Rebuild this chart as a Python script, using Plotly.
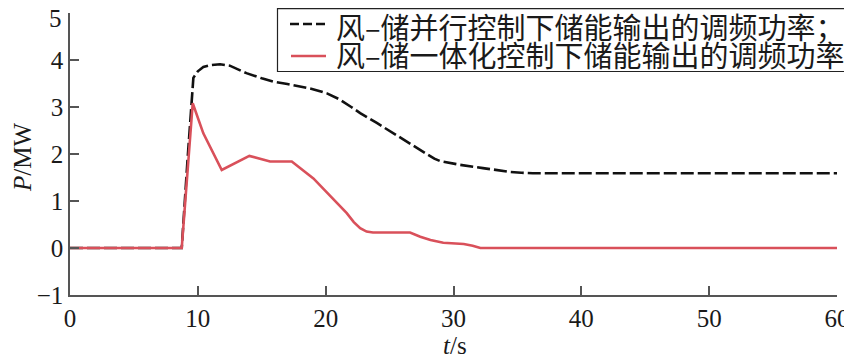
import plotly.graph_objects as go

# time (s) and power (MW) for each series
t_parallel = [0, 8.74, 9.2, 9.65, 10.0, 10.43, 11.0, 11.74, 12.5, 13.2, 13.8, 15.0, 15.9, 17.0, 18.0, 19.0, 20.1, 21.1, 22.0, 22.7, 24.0, 25.3, 26.6, 27.9, 28.5, 28.95, 29.6, 30.5, 32.3, 33.5, 34.4, 35.3, 36.2, 40, 50, 60]
p_parallel = [0, 0, 1.9, 3.62, 3.76, 3.85, 3.89, 3.91, 3.88, 3.80, 3.72, 3.61, 3.54, 3.49, 3.44, 3.38, 3.29, 3.16, 3.00, 2.87, 2.66, 2.44, 2.21, 1.99, 1.90, 1.85, 1.81, 1.77, 1.70, 1.65, 1.62, 1.60, 1.59, 1.59, 1.59, 1.59]

t_integrated = [0, 8.74, 9.6, 10.43, 11.87, 14.03, 15.65, 17.35, 19.04, 21.65, 22.2, 22.7, 23.2, 23.7, 26.6, 27.4, 28.2, 29.2, 30.8, 31.5, 32.1, 40, 50, 60]
p_integrated = [0, 0, 3.08, 2.44, 1.66, 1.96, 1.84, 1.84, 1.48, 0.74, 0.55, 0.42, 0.35, 0.33, 0.33, 0.24, 0.17, 0.11, 0.085, 0.05, 0.0, 0.0, 0.0, 0.0]

name_parallel = "风–储并行控制下储能输出的调频功率；"
name_integrated = "风–储一体化控制下储能输出的调频功率"

x_ticks = [0, 10, 20, 30, 40, 50, 60]
y_ticks = [-1, 0, 1, 2, 3, 4, 5]
y_tick_text = ["−1", "0", "1", "2", "3", "4", "5"]

serif = "Liberation Serif, Times New Roman, serif"
cjk = "Noto Sans CJK SC, sans-serif"
axis_col = "#555555"
text_col = "#1a1a1a"
black_col = "#111111"
red_col = "#d9505a"

# the page body has an 8px margin, so the figure is shrunk to fit the window
OFF = 8
W, H = 852 - OFF, 358 - OFF
L, R, T, B = 70 - OFF, 15, 13 - OFF, 63
pw, ph = W - L - R, H - T - B


def px(x):  # page pixel x -> paper
    return (x - OFF - L) / pw


def py(y):  # page pixel y -> paper
    return (H - B - (y - OFF)) / ph


fig = go.Figure()
fig.add_trace(go.Scatter(x=t_parallel, y=p_parallel, mode="lines", name=name_parallel,
                         line=dict(color=black_col, width=2.6, dash="13px,4px")))
fig.add_trace(go.Scatter(x=t_integrated, y=p_integrated, mode="lines", name=name_integrated,
                         line=dict(color=red_col, width=2.6)))

# legend drawn as box + samples + text
shapes = [
    dict(type="rect", xref="paper", yref="paper", x0=px(277.5), x1=px(848.5), y0=py(71.5), y1=py(8.6),
         line=dict(color="#222222", width=1.2), fillcolor="white", layer="above"),
    dict(type="line", xref="paper", yref="paper", x0=px(290), x1=px(326), y0=py(24), y1=py(24),
         line=dict(color=black_col, width=2.6, dash="9px,4px"), layer="above"),
    dict(type="line", xref="paper", yref="paper", x0=px(291), x1=px(326), y0=py(56), y1=py(56),
         line=dict(color=red_col, width=2.6), layer="above"),
]
annotations = [
    dict(text=name_parallel, xref="paper", yref="paper", x=px(334), y=py(26), xanchor="left", yanchor="middle",
         showarrow=False, font=dict(family=cjk, size=29, color=text_col)),
    dict(text=name_integrated, xref="paper", yref="paper", x=px(334), y=py(54), xanchor="left", yanchor="middle",
         showarrow=False, font=dict(family=cjk, size=29, color=text_col)),
    dict(text="<i>t</i>/s", xref="paper", yref="paper", x=px(455), y=py(345), xanchor="center", yanchor="middle",
         showarrow=False, font=dict(family=serif, size=25, color=text_col)),
    dict(text="<i>P</i>/MW", xref="paper", yref="paper", x=px(22), y=py(157), xanchor="center", yanchor="middle",
         textangle=-90, showarrow=False, font=dict(family=serif, size=25, color=text_col)),
    # top tick label, nudged down to stay inside the page as in the reference
    dict(text=y_tick_text[-1], xref="paper", yref="y", x=px(64), y=y_ticks[-1], yshift=-5,
         xanchor="right", yanchor="middle", showarrow=False,
         font=dict(family=serif, size=25, color=text_col)),
]

fig.update_layout(
    width=W, height=H,
    margin=dict(l=L, r=R, t=T, b=B),
    plot_bgcolor="white", paper_bgcolor="white",
    showlegend=False,
    shapes=shapes, annotations=annotations,
)
fig.update_xaxes(range=[0, 60], tickvals=x_ticks, ticks="inside", ticklen=9, tickwidth=1.5,
                 tickcolor=axis_col, showline=True, linecolor=axis_col, linewidth=1.5,
                 showgrid=False, zeroline=False, automargin=False, ticklabeloverflow="allow",
                 tickfont=dict(family=serif, size=25, color=text_col))
fig.update_yaxes(range=[-1, 5], tickvals=y_ticks, ticktext=y_tick_text[:-1] + [""], ticks="inside", ticklen=9,
                 tickwidth=1.5, tickcolor=axis_col, showline=True, linecolor=axis_col, linewidth=1.5,
                 showgrid=False, zeroline=False, automargin=False, ticklabeloverflow="allow",
                 tickfont=dict(family=serif, size=25, color=text_col))

fig.write_html("out.html")
